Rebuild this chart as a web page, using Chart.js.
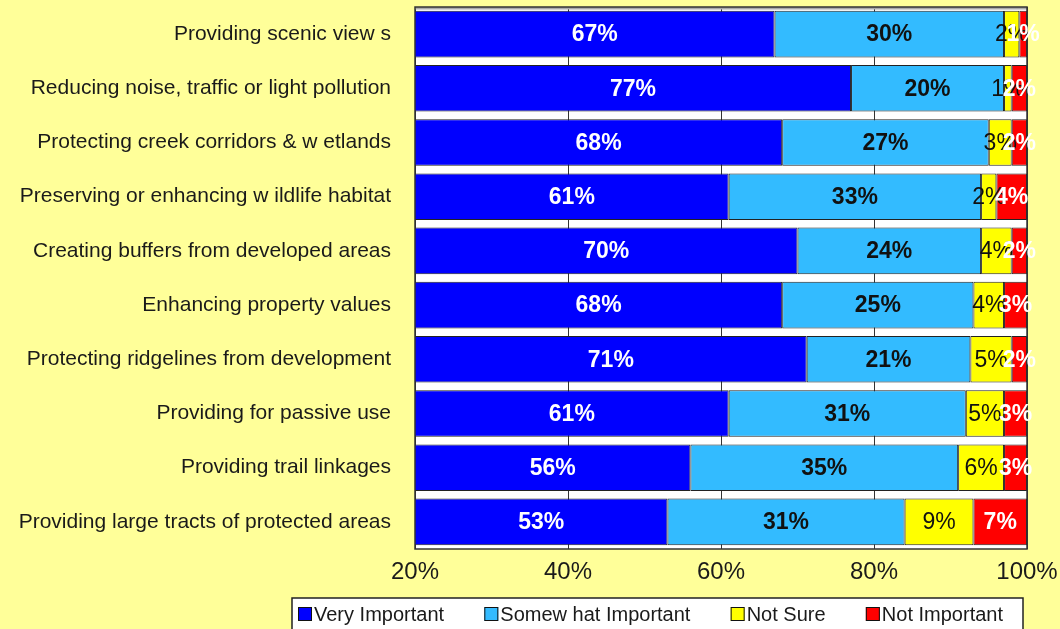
<!DOCTYPE html>
<html>
<head>
<meta charset="utf-8">
<script src="https://cdn.jsdelivr.net/npm/chart.js@4.4.0/dist/chart.umd.min.js"></script>
<style>
  html, body { margin: 0; padding: 0; background: #FFFF99; }
  #wrap { width: 1060px; height: 629px; }
</style>
</head>
<body>
<div id="wrap"><canvas id="chart" width="1060" height="629"></canvas></div>
<script>
var categories = [
  'Providing scenic view s',
  'Reducing noise, traffic or light pollution',
  'Protecting creek corridors & w etlands',
  'Preserving or enhancing w ildlife habitat',
  'Creating buffers from developed areas',
  'Enhancing property values',
  'Protecting ridgelines from development',
  'Providing for passive use',
  'Providing trail linkages',
  'Providing large tracts of protected areas'
];
var seriesNames = ['Very Important', 'Somew hat Important', 'Not Sure', 'Not Important'];
var veryImportant     = [67, 77, 68, 61, 70, 68, 71.2, 61, 56, 53];
var somewhatImportant = [30, 20, 27, 33, 24, 25, 21.4, 31, 35, 31];
var notSure           = [2, 1, 3, 2, 4, 4, 5.4, 5, 6, 9];
var notImportant      = [1, 2, 2, 4, 2, 3, 2.0, 3, 3, 7];
var xMin = 20, xMax = 100, xStep = 20;

var fills = ['#0000FF', '#33BBFF', '#FFFF00', '#FF0000'];
var labelColors = ['#FFFFFF', '#111111', '#111111', '#FFFFFF'];
var labelWeights = ['bold', 'bold', 'normal', 'bold'];
var FONT = '"Liberation Sans", Arial, sans-serif';

function makeSet(i, values) {
  return {
    label: seriesNames[i],
    data: values,
    backgroundColor: fills[i],
    borderColor: '#222222',
    borderWidth: 1,
    borderSkipped: false,
    categoryPercentage: 0.86,
    barPercentage: 1.0
  };
}

// keep the plot box where the reference has it
function noPad(s) {
  s.paddingTop = 0; s.paddingBottom = 0;
  s.paddingLeft = 0; s.paddingRight = 0;
}

var plotFrame = {
  id: 'plotFrame',
  beforeDraw: function (chart) {
    var ctx = chart.ctx, a = chart.chartArea;
    ctx.save();
    ctx.fillStyle = '#FFFF99';
    ctx.fillRect(0, 0, chart.width, chart.height);
    ctx.fillStyle = '#FFFFFF';
    ctx.fillRect(a.left, a.top, a.right - a.left, a.bottom - a.top);
    ctx.restore();
  },
  afterDatasetsDraw: function (chart) {
    var ctx = chart.ctx, a = chart.chartArea;
    ctx.save();
    // grey band along the top of the plot
    ctx.fillStyle = '#AAAAAA';
    ctx.fillRect(a.left, a.top, a.right - a.left, 2.5);
    ctx.strokeStyle = '#333333';
    ctx.lineWidth = 1.5;
    ctx.strokeRect(a.left, a.top, a.right - a.left, a.bottom - a.top);

    // value labels, centred on the visible part of each segment
    ctx.textAlign = 'center';
    ctx.textBaseline = 'middle';
    chart.data.datasets.forEach(function (ds, i) {
      var meta = chart.getDatasetMeta(i);
      ctx.font = labelWeights[i] + ' 23px ' + FONT;
      ctx.fillStyle = labelColors[i];
      meta.data.forEach(function (bar, j) {
        var p = bar.getProps(['x', 'y', 'base'], true);
        var l = Math.max(Math.min(p.x, p.base), a.left);
        var r = Math.min(Math.max(p.x, p.base), a.right);
        ctx.fillText(Math.round(ds.data[j]) + '%', (l + r) / 2, p.y + 1);
      });
    });
    ctx.restore();
  },
  afterDraw: function (chart) {
    // boxed legend under the axis
    var ctx = chart.ctx;
    var boxL = 292, boxR = 1023, boxT = 598;
    var startX = 298, endX = 1003, cy = 614, sq = 14;
    ctx.save();
    ctx.fillStyle = '#FFFFFF';
    ctx.fillRect(boxL, boxT, boxR - boxL, chart.height - boxT + 2);
    ctx.strokeStyle = '#222222';
    ctx.lineWidth = 1.5;
    ctx.strokeRect(boxL, boxT, boxR - boxL, chart.height - boxT + 2);

    ctx.font = '20px ' + FONT;
    ctx.textBaseline = 'middle';
    ctx.textAlign = 'left';
    var widths = seriesNames.map(function (s) { return ctx.measureText(s).width; });
    var used = widths.reduce(function (s, w) { return s + w + sq + 2; }, 0);
    var gap = (endX - startX - used) / (seriesNames.length - 1);
    var x = startX;
    seriesNames.forEach(function (name, i) {
      ctx.fillStyle = fills[i];
      ctx.fillRect(x, cy - sq / 2, sq, sq);
      ctx.strokeStyle = '#111111';
      ctx.lineWidth = 1;
      ctx.strokeRect(x + 0.5, cy - sq / 2 + 0.5, sq - 1, sq - 1);
      ctx.fillStyle = '#1A1A1A';
      ctx.fillText(name, x + sq + 2, cy + 1);
      x += sq + 2 + widths[i] + gap;
    });
    ctx.restore();
  }
};

new Chart(document.getElementById('chart'), {
  type: 'bar',
  data: {
    labels: categories,
    datasets: [
      makeSet(0, veryImportant),
      makeSet(1, somewhatImportant),
      makeSet(2, notSure),
      makeSet(3, notImportant)
    ]
  },
  options: {
    indexAxis: 'y',
    responsive: false,
    animation: false,
    events: [],
    layout: { padding: { left: 0, right: 33, top: 7, bottom: 40 } },
    plugins: {
      legend: { display: false },
      tooltip: { enabled: false }
    },
    scales: {
      x: {
        stacked: true,
        min: xMin,
        max: xMax,
        border: { display: false },
        grid: { color: '#333333', lineWidth: 1, drawTicks: false },
        ticks: {
          stepSize: xStep,
          padding: 9,
          maxRotation: 0,
          color: '#1A1A1A',
          font: { family: FONT, size: 24 },
          callback: function (v) { return v + '%'; }
        },
        afterFit: function (s) { s.height = 40; noPad(s); }
      },
      y: {
        stacked: true,
        border: { display: false },
        grid: { display: false, drawTicks: false },
        ticks: {
          padding: 24,
          color: '#1A1A1A',
          font: { family: FONT, size: 21 }
        },
        afterFit: function (s) { s.width = 415; noPad(s); }
      }
    }
  },
  plugins: [plotFrame]
});
</script>
</body>
</html>
